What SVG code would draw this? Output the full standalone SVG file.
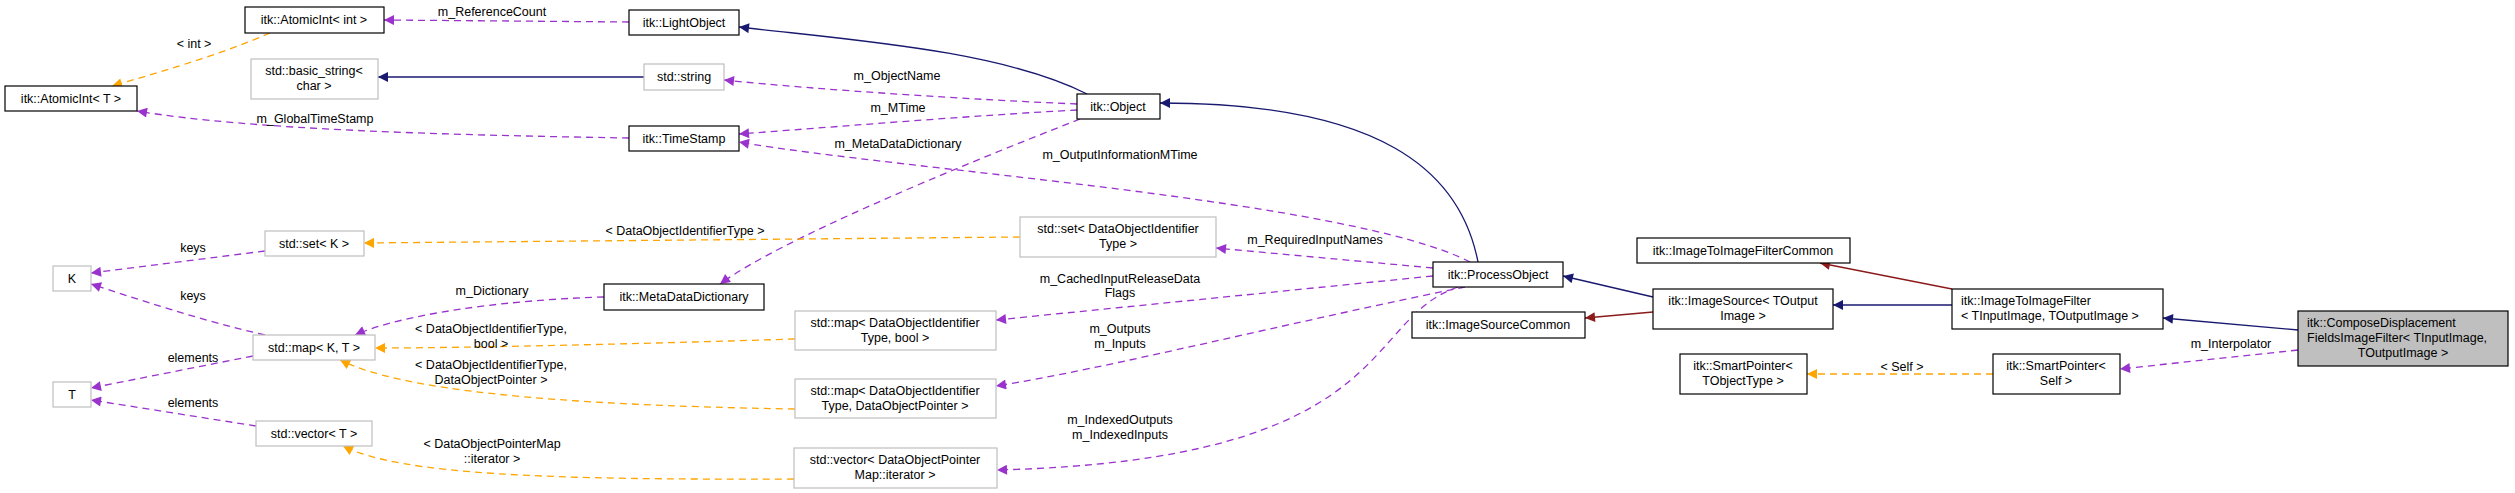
<svg xmlns="http://www.w3.org/2000/svg" width="2515" height="493" viewBox="0 0 2515 493">
<style>
text{font-family:"Liberation Sans",Arial,sans-serif;font-size:12.5px;fill:#000}
.n rect{fill:#fff;stroke:#000;stroke-width:1.2}
.g rect{fill:#fff;stroke:#bfbfbf;stroke-width:1.2}
.m{text-anchor:middle}
.e path{fill:none;stroke-width:1.3}
.nv{stroke:#191970}
.rd{stroke:#8b1a1a}
.pu{stroke:#9a32cd;stroke-dasharray:7,5}
.or{stroke:#ffa500;stroke-dasharray:7,5}
</style>
<defs>
<marker id="aN" viewBox="0 0 10 10" refX="10" refY="5" markerWidth="12" markerHeight="10" markerUnits="userSpaceOnUse" orient="auto"><path d="M0,0L10,5L0,10z" fill="#191970"/></marker>
<marker id="aR" viewBox="0 0 10 10" refX="10" refY="5" markerWidth="12" markerHeight="10" markerUnits="userSpaceOnUse" orient="auto"><path d="M0,0L10,5L0,10z" fill="#8b1a1a"/></marker>
<marker id="aP" viewBox="0 0 10 10" refX="10" refY="5" markerWidth="12" markerHeight="10" markerUnits="userSpaceOnUse" orient="auto"><path d="M0,0L10,5L0,10z" fill="#9a32cd"/></marker>
<marker id="aO" viewBox="0 0 10 10" refX="10" refY="5" markerWidth="12" markerHeight="10" markerUnits="userSpaceOnUse" orient="auto"><path d="M0,0L10,5L0,10z" fill="#ffa500"/></marker>
</defs>
<g id="edges" class="e">
<path class="pu" marker-end="url(#aP)" d="M629,22 L384,20"/>
<path class="or" marker-end="url(#aO)" d="M270,33 C220,55 150,75 112,86"/>
<path class="nv" marker-end="url(#aN)" d="M644,77 L378,77"/>
<path class="pu" marker-end="url(#aP)" d="M629,138 C450,135 250,130 137,111"/>
<path class="nv" marker-end="url(#aN)" d="M1087,94 C1000,50 850,40 739,27"/>
<path class="pu" marker-end="url(#aP)" d="M1077,104 C980,100 820,90 724,80"/>
<path class="pu" marker-end="url(#aP)" d="M1077,110 C980,115 820,128 739,134"/>
<path class="pu" marker-end="url(#aP)" d="M1080,119 C950,170 780,240 720,284"/>
<path class="nv" marker-end="url(#aN)" d="M1478,262 C1460,170 1380,103 1160,103"/>
<path class="pu" marker-end="url(#aP)" d="M1470,262 C1350,200 900,170 739,142"/>
<path class="pu" marker-end="url(#aP)" d="M1433,268 L1216,248"/>
<path class="pu" marker-end="url(#aP)" d="M1433,276 L996,320"/>
<path class="pu" marker-end="url(#aP)" d="M1465,287 C1300,320 1100,370 996,386"/>
<path class="pu" marker-end="url(#aP)" d="M1458,287 C1360,320 1400,460 997,470"/>
<path class="pu" marker-end="url(#aP)" d="M604,297 C500,300 400,315 355,335"/>
<path class="or" marker-end="url(#aO)" d="M1020,237 L364,243"/>
<path class="or" marker-end="url(#aO)" d="M795,339 C600,345 450,348 375,348"/>
<path class="or" marker-end="url(#aO)" d="M795,409 C550,405 400,390 340,360"/>
<path class="or" marker-end="url(#aO)" d="M794,479 C550,480 400,475 343,446"/>
<path class="pu" marker-end="url(#aP)" d="M265,251 L91,273"/>
<path class="pu" marker-end="url(#aP)" d="M265,335 C200,320 140,300 91,284"/>
<path class="pu" marker-end="url(#aP)" d="M253,356 L91,388"/>
<path class="pu" marker-end="url(#aP)" d="M256,426 L91,400"/>
<path class="nv" marker-end="url(#aN)" d="M1653,297 L1563,276"/>
<path class="rd" marker-end="url(#aR)" d="M1653,312 L1585,318"/>
<path class="nv" marker-end="url(#aN)" d="M1952,305 L1833,305"/>
<path class="rd" marker-end="url(#aR)" d="M1952,289 L1820,263"/>
<path class="nv" marker-end="url(#aN)" d="M2298,330 L2163,318"/>
<path class="pu" marker-end="url(#aP)" d="M2298,350 L2120,369"/>
<path class="or" marker-end="url(#aO)" d="M1993,374 L1807,374"/>
<text class="m" x="492" y="16">m_ReferenceCount</text>
<text class="m" x="194" y="48">&lt; int &gt;</text>
<text class="m" x="315" y="123">m_GlobalTimeStamp</text>
<text class="m" x="897" y="80">m_ObjectName</text>
<text class="m" x="898" y="112">m_MTime</text>
<text class="m" x="898" y="148">m_MetaDataDictionary</text>
<text class="m" x="1120" y="159">m_OutputInformationMTime</text>
<text class="m" x="1315" y="244">m_RequiredInputNames</text>
<text class="m" x="685" y="235">&lt; DataObjectIdentifierType &gt;</text>
<text class="m" x="1120" y="283">m_CachedInputReleaseData</text>
<text class="m" x="1120" y="297">Flags</text>
<text class="m" x="1120" y="333">m_Outputs</text>
<text class="m" x="1120" y="348">m_Inputs</text>
<text class="m" x="1120" y="424">m_IndexedOutputs</text>
<text class="m" x="1120" y="439">m_IndexedInputs</text>
<text class="m" x="193" y="252">keys</text>
<text class="m" x="193" y="300">keys</text>
<text class="m" x="492" y="295">m_Dictionary</text>
<text class="m" x="491" y="333">&lt; DataObjectIdentifierType,</text>
<text class="m" x="491" y="348">bool &gt;</text>
<text class="m" x="491" y="369">&lt; DataObjectIdentifierType,</text>
<text class="m" x="491" y="384">DataObjectPointer &gt;</text>
<text class="m" x="193" y="362">elements</text>
<text class="m" x="193" y="407">elements</text>
<text class="m" x="492" y="448">&lt; DataObjectPointerMap</text>
<text class="m" x="492" y="463">::iterator &gt;</text>
<text class="m" x="2231" y="348">m_Interpolator</text>
<text class="m" x="1902" y="371">&lt; Self &gt;</text>
</g>
<g id="atomicint_int" class="n"><rect x="245" y="7" width="139" height="26"/><text class="m" x="314" y="24">itk::AtomicInt&lt; int &gt;</text></g>
<g id="atomicint_t" class="n"><rect x="5" y="86" width="132" height="25"/><text class="m" x="71" y="103">itk::AtomicInt&lt; T &gt;</text></g>
<g id="basic_string" class="g"><rect x="251" y="59" width="127" height="40"/><text class="m" x="314" y="75">std::basic_string&lt;</text><text class="m" x="314" y="90">char &gt;</text></g>
<g id="lightobject" class="n"><rect x="629" y="10" width="110" height="25"/><text class="m" x="684" y="27">itk::LightObject</text></g>
<g id="std_string" class="g"><rect x="644" y="64" width="80" height="26"/><text class="m" x="684" y="81">std::string</text></g>
<g id="timestamp" class="n"><rect x="629" y="126" width="110" height="25"/><text class="m" x="684" y="143">itk::TimeStamp</text></g>
<g id="object" class="n"><rect x="1077" y="94" width="83" height="25"/><text class="m" x="1118" y="111">itk::Object</text></g>
<g id="set_k" class="g"><rect x="265" y="231" width="99" height="25"/><text class="m" x="314" y="248">std::set&lt; K &gt;</text></g>
<g id="k" class="g"><rect x="53" y="266" width="38" height="25"/><text class="m" x="72" y="283">K</text></g>
<g id="t" class="g"><rect x="53" y="382" width="38" height="25"/><text class="m" x="72" y="399">T</text></g>
<g id="map_kt" class="g"><rect x="253" y="335" width="122" height="25"/><text class="m" x="314" y="352">std::map&lt; K, T &gt;</text></g>
<g id="vector_t" class="g"><rect x="256" y="421" width="116" height="25"/><text class="m" x="314" y="438">std::vector&lt; T &gt;</text></g>
<g id="metadatadictionary" class="n"><rect x="604" y="284" width="160" height="26"/><text class="m" x="684" y="301">itk::MetaDataDictionary</text></g>
<g id="set_doit" class="g"><rect x="1020" y="217" width="196" height="40"/><text class="m" x="1118" y="233">std::set&lt; DataObjectIdentifier</text><text class="m" x="1118" y="248">Type &gt;</text></g>
<g id="map_bool" class="g"><rect x="795" y="311" width="201" height="39"/><text class="m" x="895" y="327">std::map&lt; DataObjectIdentifier</text><text class="m" x="895" y="342">Type, bool &gt;</text></g>
<g id="map_dop" class="g"><rect x="795" y="379" width="201" height="39"/><text class="m" x="895" y="395">std::map&lt; DataObjectIdentifier</text><text class="m" x="895" y="410">Type, DataObjectPointer &gt;</text></g>
<g id="vector_iter" class="g"><rect x="794" y="448" width="203" height="40"/><text class="m" x="895" y="464">std::vector&lt; DataObjectPointer</text><text class="m" x="895" y="479">Map::iterator &gt;</text></g>
<g id="processobject" class="n"><rect x="1433" y="262" width="130" height="25"/><text class="m" x="1498" y="279">itk::ProcessObject</text></g>
<g id="imagesourcecommon" class="n"><rect x="1412" y="312" width="173" height="26"/><text class="m" x="1498" y="329">itk::ImageSourceCommon</text></g>
<g id="imagesource" class="n"><rect x="1653" y="289" width="180" height="40"/><text class="m" x="1743" y="305">itk::ImageSource&lt; TOutput</text><text class="m" x="1743" y="320">Image &gt;</text></g>
<g id="itifcommon" class="n"><rect x="1637" y="238" width="213" height="25"/><text class="m" x="1743" y="255">itk::ImageToImageFilterCommon</text></g>
<g id="itif" class="n"><rect x="1952" y="289" width="211" height="40"/><text x="1961" y="305">itk::ImageToImageFilter</text><text x="1961" y="320">&lt; TInputImage, TOutputImage &gt;</text></g>
<g id="compose" class="n"><rect x="2298" y="311" width="210" height="55" style="fill:#bfbfbf"/><text x="2307" y="327">itk::ComposeDisplacement</text><text x="2307" y="342">FieldsImageFilter&lt; TInputImage,</text><text class="m" x="2403" y="357">TOutputImage &gt;</text></g>
<g id="smartpointer_tobj" class="n"><rect x="1680" y="354" width="127" height="40"/><text class="m" x="1743" y="370">itk::SmartPointer&lt;</text><text class="m" x="1743" y="385">TObjectType &gt;</text></g>
<g id="smartpointer_self" class="n"><rect x="1993" y="354" width="127" height="40"/><text class="m" x="2056" y="370">itk::SmartPointer&lt;</text><text class="m" x="2056" y="385">Self &gt;</text></g>
</svg>
